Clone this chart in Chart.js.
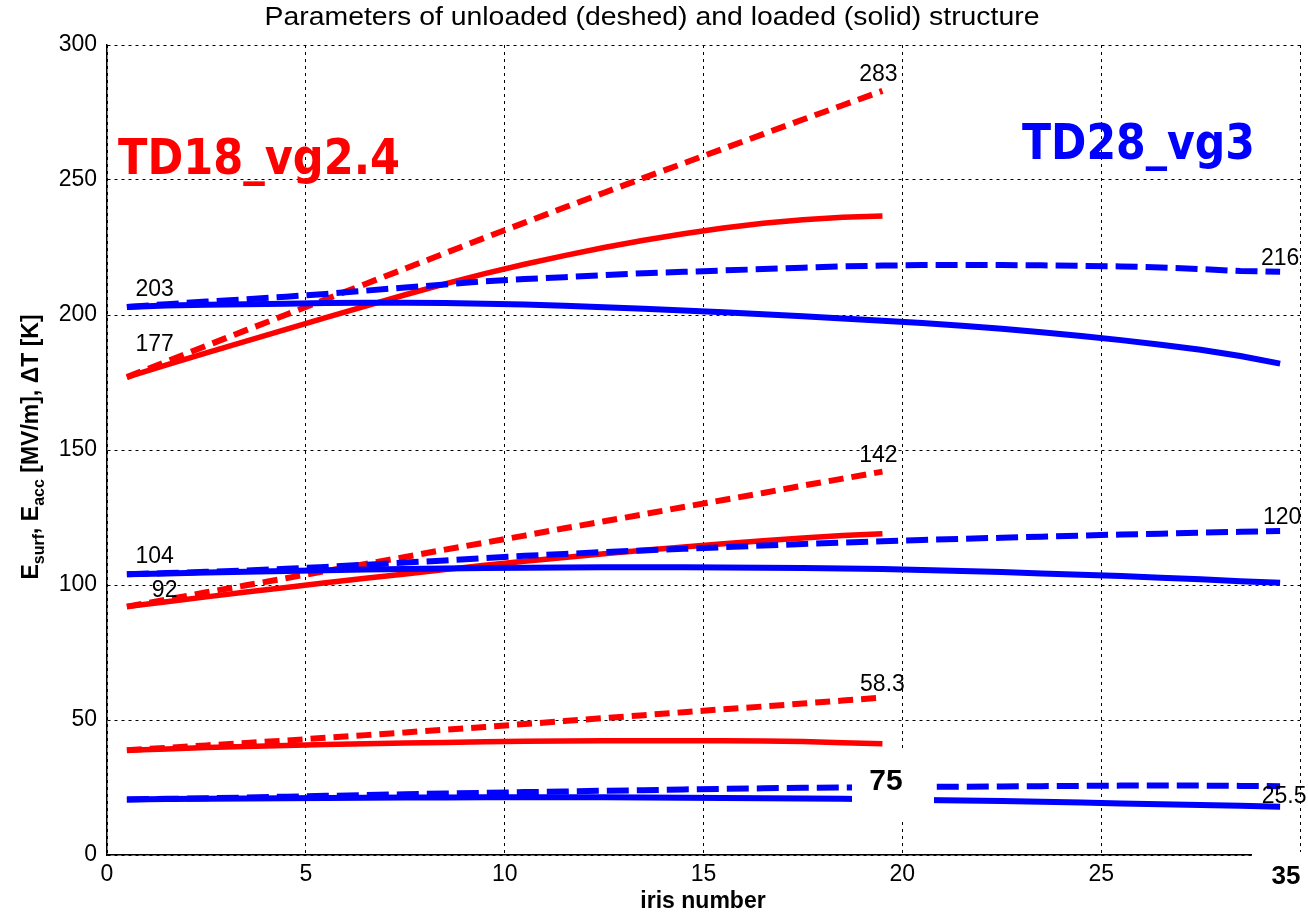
<!DOCTYPE html>
<html>
<head>
<meta charset="utf-8">
<script src="https://cdn.jsdelivr.net/npm/chart.js@4.4.1/dist/chart.umd.min.js"></script>
<style>
  html, body { margin: 0; padding: 0; background: #fff; }
  #irisChart { display: block; }
</style>
</head>
<body>
<canvas id="irisChart" width="1308" height="917"></canvas>
<script>
// iris positions
const irisTD18 = [0.5, 1.5, 2.5, 3.5, 4.5, 5.5, 6.5, 7.5, 8.5, 9.5, 10.5, 11.5, 12.5, 13.5, 14.5, 15.5, 16.5, 17.5, 18.5, 19.5];
const irisTD28 = [0.5, 1.5, 2.5, 3.5, 4.5, 5.5, 6.5, 7.5, 8.5, 9.5, 10.5, 11.5, 12.5, 13.5, 14.5, 15.5, 16.5, 17.5, 18.5, 19.5,
                  20.5, 21.5, 22.5, 23.5, 24.5, 25.5, 26.5, 27.5, 28.5, 29.5];

// TD18_vg2.4 (red)
const td18EsurfUnloaded = [177, 182.8, 188.6, 194.4, 200.1, 205.8, 211.5, 217.2, 222.9, 228.6, 234.2, 239.8, 245.3, 250.8, 256.2, 261.6, 267, 272.4, 277.7, 283];
const td18EsurfLoaded   = [177, 181.5, 186, 190.3, 194.7, 199, 203.3, 207.5, 211.5, 215.3, 218.8, 222, 225, 227.7, 230.1, 232.2, 234, 235.3, 236.2, 236.7];
const td18EaccUnloaded  = [92, 94.6, 97.3, 99.9, 102.5, 105.2, 107.8, 110.4, 113.1, 115.7, 118.3, 121, 123.6, 126.2, 128.9, 131.5, 134.1, 136.8, 139.4, 142];
const td18EaccLoaded    = [92, 93.8, 95.6, 97.4, 99.1, 100.8, 102.5, 104.1, 105.7, 107.3, 108.8, 110.2, 111.6, 112.9, 114.1, 115.3, 116.4, 117.4, 118.3, 119];
const td18dTUnloaded    = [38.8, 39.7, 40.6, 41.5, 42.4, 43.4, 44.4, 45.4, 46.4, 47.4, 48.5, 49.6, 50.7, 51.8, 52.9, 54, 55, 56.1, 57.2, 58.3];
const td18dTLoaded      = [38.8, 39.3, 39.8, 40.2, 40.6, 40.9, 41.2, 41.5, 41.7, 41.9, 42.1, 42.2, 42.3, 42.3, 42.3, 42.3, 42.2, 42, 41.6, 41.2];

// TD28_vg3 (blue)
const td28EsurfUnloaded = [203, 204, 205, 205.8, 206.8, 207.8, 209, 210.2, 211.3, 212.5, 213.3, 214, 214.8, 215.5, 216, 216.5, 217, 217.5, 218, 218.3,
                           218.5, 218.5, 218.5, 218.4, 218.2, 218, 217.6, 217, 216.3, 216];
const td28EsurfLoaded   = [203, 203.5, 203.8, 204, 204.2, 204.4, 204.5, 204.5, 204.4, 204.2, 203.9, 203.4, 202.9, 202.3, 201.7, 201, 200.3, 199.5, 198.7, 197.9,
                           197, 196, 194.9, 193.6, 192.2, 190.7, 189, 187.1, 184.8, 182];
const td28EaccUnloaded  = [104, 104.4, 104.9, 105.4, 106, 106.7, 107.5, 108.3, 109.1, 110, 110.8, 111.5, 112.2, 112.8, 113.4, 114, 114.6, 115.2, 115.7, 116.2,
                           116.7, 117.1, 117.5, 117.9, 118.3, 118.7, 119, 119.4, 119.7, 120];
const td28EaccLoaded    = [104, 104.3, 104.6, 104.9, 105.2, 105.5, 105.7, 105.9, 106.1, 106.3, 106.4, 106.5, 106.6, 106.6, 106.6, 106.5, 106.4, 106.3, 106.1, 105.9,
                           105.6, 105.2, 104.8, 104.3, 103.8, 103.3, 102.7, 102.1, 101.4, 100.8];
const td28dTUnloaded    = [20.6, 20.8, 21, 21.3, 21.6, 21.9, 22.2, 22.5, 22.8, 23, 23.3, 23.5, 23.8, 24, 24.3, 24.5, 24.7, 24.9, 25, 25.1,
                           25.2, 25.3, 25.4, 25.5, 25.6, 25.7, 25.7, 25.7, 25.6, 25.5];
const td28dTLoaded      = [20.6, 20.7, 20.8, 20.9, 21, 21.1, 21.2, 21.3, 21.3, 21.4, 21.4, 21.4, 21.4, 21.3, 21.2, 21.1, 21, 20.9, 20.8, 20.6,
                           20.4, 20.2, 20, 19.7, 19.4, 19.1, 18.8, 18.5, 18.2, 17.9];

const xTicks = [0, 5, 10, 15, 20, 25, 30];
const yTicks = [0, 50, 100, 150, 200, 250, 300];

// value labels placed in data coordinates
const valueLabels = [
  { x: 1.2, y: 209.5, text: '203' },
  { x: 1.2, y: 189, text: '177' },
  { x: 1.2, y: 110.4, text: '104' },
  { x: 1.45, y: 98, text: '92' },
  { x: 19.4, y: 289, text: '283' },
  { x: 19.4, y: 148, text: '142' },
  { x: 19.5, y: 63, text: '58.3' },
  { x: 29.5, y: 221, text: '216' },
  { x: 29.55, y: 125, text: '120' },
  { x: 29.6, y: 21.5, text: '25.5' }
];

const RED = '#ff0000';
const BLUE = '#0000ff';

const pts = (xs, ys) => xs.map((x, i) => ({ x: x, y: ys[i] }));

const line = (data, color, dashed, width) => ({
  data: data,
  borderColor: color,
  backgroundColor: color,
  borderWidth: width,
  borderDash: dashed ? (color === BLUE ? [22, 8] : [15, 8]) : [],
  pointRadius: 0,
  tension: 0,
  fill: false
});

const fitText = (ctx, text, x, y, width, align) => {
  const w = ctx.measureText(text).width;
  const s = width / w;
  ctx.save();
  ctx.translate(x, y);
  ctx.scale(s, 1);
  ctx.textAlign = 'left';
  const off = align === 'center' ? -w / 2 : 0;
  ctx.fillText(text, off, 0);
  ctx.restore();
};

const annotations = {
  id: 'annotations',
  afterDraw(chart) {
    const ctx = chart.ctx;
    const xs = chart.scales.x, ys = chart.scales.y;
    ctx.save();
    ctx.fillStyle = '#000';
    ctx.textBaseline = 'middle';

    // title
    ctx.font = '25px "Liberation Sans", Arial, sans-serif';
    fitText(ctx, 'Parameters of unloaded (deshed) and loaded (solid) structure', 652, 18, 775, 'center');

    // value labels
    ctx.font = '23px "Liberation Sans", Arial, sans-serif';
    ctx.textAlign = 'center';
    valueLabels.forEach(l => ctx.fillText(l.text, xs.getPixelForValue(l.x), ys.getPixelForValue(l.y)));

    // x axis title
    ctx.font = 'bold 23px "Liberation Sans", Arial, sans-serif';
    ctx.fillText('iris number', 703, 902);

    // y axis title with subscripts
    ctx.translate(30, 447);
    ctx.rotate(-Math.PI / 2);
    const parts = [
      ['E', false], ['surf', true], [', E', false], ['acc', true], [' [MV/m], \u0394T [K]', false]
    ];
    const mainFont = 'bold 23px "Liberation Sans", Arial, sans-serif';
    const subFont = 'bold 16px "Liberation Sans", Arial, sans-serif';
    let total = 0;
    parts.forEach(p => { ctx.font = p[1] ? subFont : mainFont; total += ctx.measureText(p[0]).width; });
    let cx = -total / 2;
    ctx.textAlign = 'left';
    ctx.textBaseline = 'alphabetic';
    parts.forEach(p => {
      ctx.font = p[1] ? subFont : mainFont;
      ctx.fillText(p[0], cx, p[1] ? 14 : 8);
      cx += ctx.measureText(p[0]).width;
    });
    ctx.restore();

    // structure names
    ctx.save();
    ctx.textBaseline = 'alphabetic';
    ctx.font = 'bold 50px "Comic Sans MS", "DejaVu Sans", sans-serif';
    ctx.fillStyle = RED;
    fitText(ctx, 'TD18_vg2.4', 118, 174, 282, 'left');
    ctx.fillStyle = BLUE;
    fitText(ctx, 'TD28_vg3', 1022, 159, 233, 'left');
    ctx.restore();

    // white patches from the slide
    ctx.save();
    ctx.fillStyle = '#fff';
    ctx.fillRect(852, 752, 82, 66);
    ctx.fillRect(1252, 852, 56, 65);
    ctx.fillStyle = '#000';
    ctx.textAlign = 'center';
    ctx.textBaseline = 'middle';
    ctx.font = 'bold 30px "Liberation Sans", Arial, sans-serif';
    ctx.fillText('75', 886, 782);
    ctx.font = 'bold 26px "Liberation Sans", Arial, sans-serif';
    ctx.fillText('35', 1286, 877);
    ctx.restore();
  }
};

new Chart(document.getElementById('irisChart').getContext('2d'), {
  type: 'line',
  data: {
    datasets: [
      line(pts(irisTD28, td28EsurfUnloaded), BLUE, true, 6),
      line(pts(irisTD28, td28EsurfLoaded), BLUE, false, 6),
      line(pts(irisTD28, td28EaccUnloaded), BLUE, true, 6),
      line(pts(irisTD28, td28EaccLoaded), BLUE, false, 6),
      line(pts(irisTD28, td28dTUnloaded), BLUE, true, 6),
      line(pts(irisTD28, td28dTLoaded), BLUE, false, 6),
      line(pts(irisTD18, td18EsurfUnloaded), RED, true, 6),
      line(pts(irisTD18, td18EsurfLoaded), RED, false, 5.5),
      line(pts(irisTD18, td18EaccUnloaded), RED, true, 6),
      line(pts(irisTD18, td18EaccLoaded), RED, false, 5.5),
      line(pts(irisTD18, td18dTUnloaded), RED, true, 6),
      line(pts(irisTD18, td18dTLoaded), RED, false, 5.5)
    ]
  },
  options: {
    responsive: false,
    animation: false,
    devicePixelRatio: 1,
    layout: { padding: { top: 45, right: 8, left: 0, bottom: 0 } },
    plugins: { legend: { display: false }, tooltip: { enabled: false } },
    scales: {
      x: {
        type: 'linear',
        min: 0,
        max: 30,
        afterBuildTicks: s => { s.ticks = xTicks.map(v => ({ value: v })); },
        afterFit: s => { s.height = 62; s.paddingLeft = 0; s.paddingRight = 0; },
        ticks: { color: '#000', font: { family: '"Liberation Sans", Arial, sans-serif', size: 23 }, padding: 6, maxRotation: 0 },
        grid: { color: '#000', lineWidth: 1, drawTicks: false },
        border: { display: true, color: '#000', width: 1.5, dash: [3, 4] }
      },
      y: {
        min: 0,
        max: 300,
        afterBuildTicks: s => { s.ticks = yTicks.map(v => ({ value: v })); },
        afterFit: s => { s.width = 107; s.paddingTop = 0; s.paddingBottom = 0; },
        ticks: { color: '#000', font: { family: '"Liberation Sans", Arial, sans-serif', size: 23 }, padding: 10 },
        grid: { color: '#000', lineWidth: 1, drawTicks: false },
        border: { display: true, color: '#000', width: 1.5, dash: [3, 4] }
      }
    }
  },
  plugins: [annotations]
});
</script>
</body>
</html>
